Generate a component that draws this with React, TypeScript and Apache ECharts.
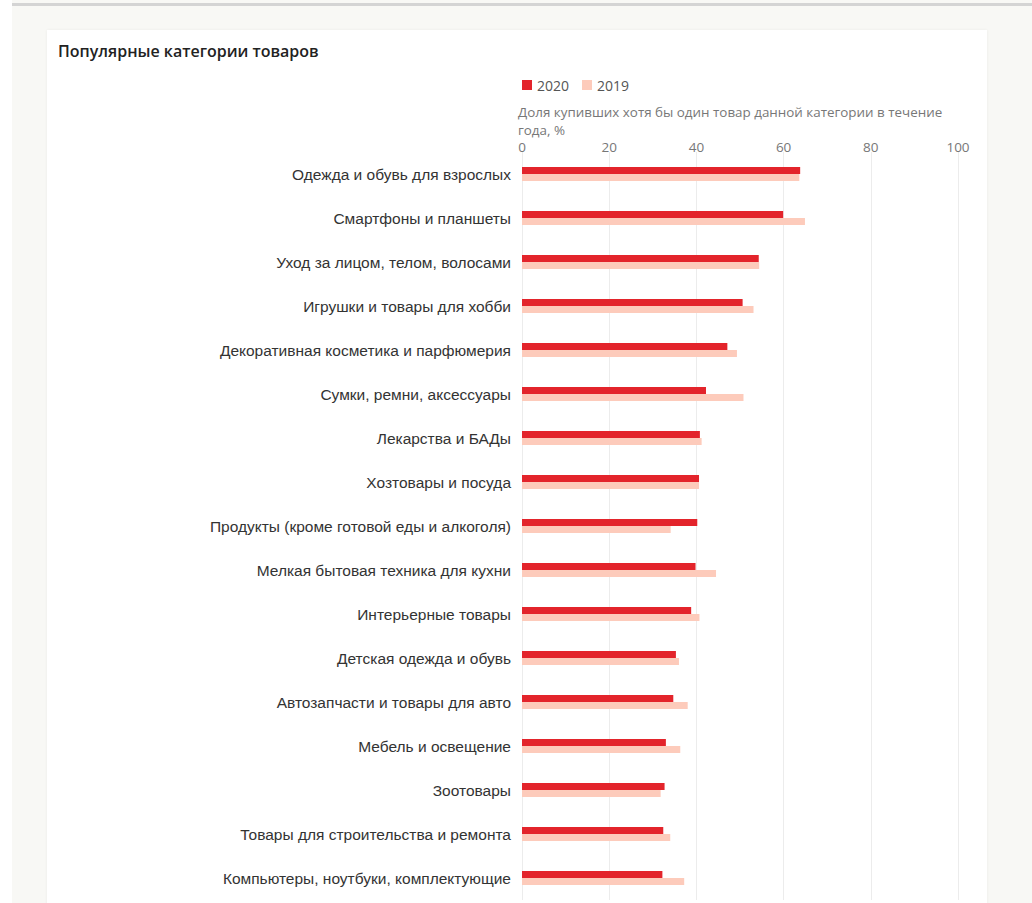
import React, { useEffect, useRef } from "react";
import * as echarts from "echarts";

const categories = [
  "Одежда и обувь для взрослых",
  "Смартфоны и планшеты",
  "Уход за лицом, телом, волосами",
  "Игрушки и товары для хобби",
  "Декоративная косметика и парфюмерия",
  "Сумки, ремни, аксессуары",
  "Лекарства и БАДы",
  "Хозтовары и посуда",
  "Продукты (кроме готовой еды и алкоголя)",
  "Мелкая бытовая техника для кухни",
  "Интерьерные товары",
  "Детская одежда и обувь",
  "Автозапчасти и товары для авто",
  "Мебель и освещение",
  "Зоотовары",
  "Товары для строительства и ремонта",
  "Компьютеры, ноутбуки, комплектующие",
];

const values2020 = [63.8, 59.9, 54.3, 50.6, 47.1, 42.2, 40.8, 40.6, 40.2, 39.8, 38.8, 35.3, 34.7, 33.0, 32.7, 32.4, 32.2];
const values2019 = [63.6, 64.9, 54.4, 53.1, 49.3, 50.8, 41.2, 40.6, 34.1, 44.5, 40.7, 36.0, 38.0, 36.3, 31.8, 34.0, 37.2];

const seriesNames = ["2020", "2019"];
const xTicks = [0, 20, 40, 60, 80, 100];

const axisTitleLines = ["Доля купивших хотя бы один товар данной категории в течение", "года, %"];
const chartTitle = "Популярные категории товаров";

const RED = "#e3242b";
const PINK = "#fdcbbb";

export default function App() {
  const ref = useRef<HTMLDivElement>(null);

  useEffect(() => {
    if (!ref.current) return;
    const chart = echarts.init(ref.current, undefined, { renderer: "svg" });
    chart.setOption({
      animation: false,
      backgroundColor: "transparent",
      title: {
        text: chartTitle,
        left: 53,
        top: 38,
        textStyle: {
          fontFamily: "Open Sans",
          fontWeight: 600,
          fontSize: 16,
          color: "#222",
        },
      },
      legend: {
        data: seriesNames,
        left: 517,
        top: 73,
        itemWidth: 10,
        itemHeight: 10,
        itemGap: 13,
        icon: "rect",
        textStyle: { fontFamily: "Open Sans", fontSize: 14, color: "#555" },
      },
      graphic: axisTitleLines.map((line, i) => ({
        type: "text",
        left: 518,
        top: 104 + i * 18,
        style: {
          text: line,
          fontFamily: "Open Sans",
          fontSize: 13.4,
          lineHeight: 15,
          fill: "#777",
        },
      })),
      grid: {
        left: 522,
        width: 436,
        top: 152,
        height: 748,
        containLabel: false,
      },
      xAxis: {
        type: "value",
        position: "top",
        min: 0,
        max: 100,
        interval: 20,
        axisLine: { show: false },
        axisTick: { show: false },
        axisLabel: {
          fontFamily: "Open Sans",
          fontSize: 13.5,
          color: "#777",
          margin: -2,
          formatter: (v: number) => (xTicks.includes(v) ? String(v) : ""),
        },
        splitLine: { show: true, lineStyle: { color: "#ececec", width: 1 } },
      },
      yAxis: {
        type: "category",
        data: categories,
        inverse: true,
        axisLine: { show: false },
        axisTick: { show: false },
        axisLabel: {
          fontFamily: "Liberation Sans",
          fontSize: 15.5,
          color: "#333",
          margin: 11,
        },
      },
      series: [
        {
          name: seriesNames[0],
          type: "bar",
          data: values2020,
          barWidth: 7,
          barGap: "0%",
          itemStyle: { color: RED },
        },
        {
          name: seriesNames[1],
          type: "bar",
          data: values2019,
          barWidth: 7,
          barGap: "0%",
          itemStyle: { color: PINK },
        },
      ],
    });
    return () => chart.dispose();
  }, []);

  return (
    <div style={{ position: "absolute", left: 0, top: 0, width: 1032, height: 903, overflow: "hidden", background: "#ffffff" }}>
      <div style={{ position: "absolute", left: 12, top: 0, width: 1020, height: 903, background: "#f8f8f5" }} />
      <div style={{ position: "absolute", left: 12, top: 3, width: 1020, height: 3, background: "#d4d4d4" }} />
      <div style={{ position: "absolute", left: 47, top: 30, width: 940, height: 900, background: "#ffffff", boxShadow: "0 0 3px rgba(0,0,0,0.06)" }} />
      <div ref={ref} style={{ position: "absolute", left: 0, top: 0, width: 1032, height: 903 }} />
    </div>
  );
}
